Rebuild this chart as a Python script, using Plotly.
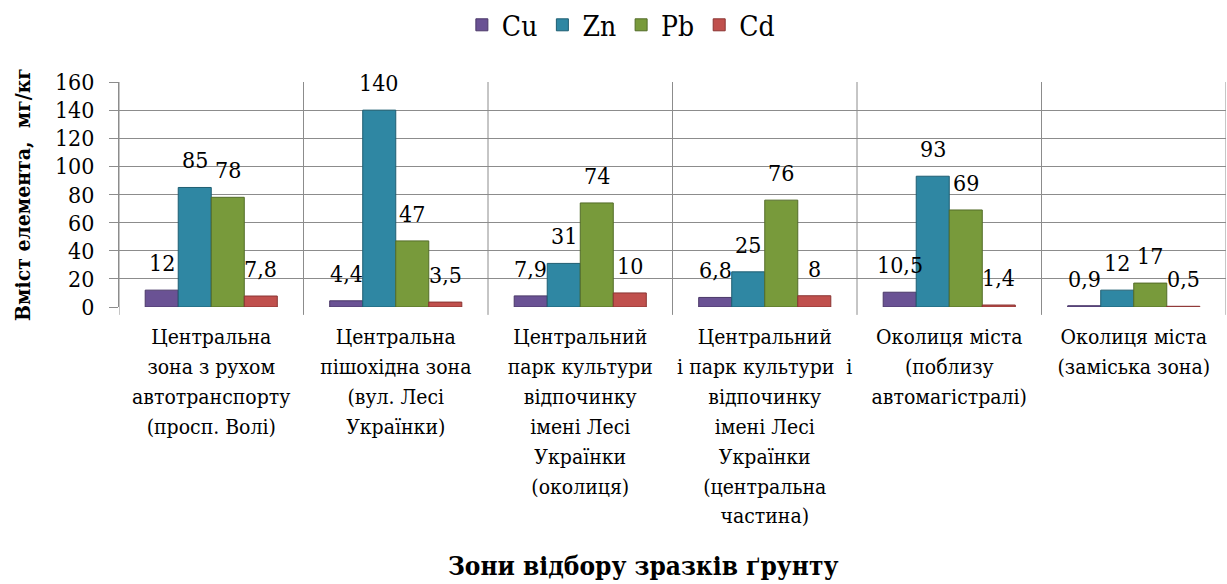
import plotly.graph_objects as go

# Sampling zones (category labels, one list entry per axis line)
zones = [
    ["Центральна", "зона з рухом", "автотранспорту", "(просп. Волі)"],
    ["Центральна", "пішохідна зона", "(вул. Лесі", "Українки)"],
    ["Центральний", "парк культури", "відпочинку", "імені Лесі", "Українки", "(околиця)"],
    ["Центральний", "і парк культури  і", "відпочинку", "імені Лесі", "Українки",
     "(центральна", "частина)"],
    ["Околиця міста", "(поблизу", "автомагістралі)"],
    ["Околиця міста", "(заміська зона)"],
]

# Element content, mg/kg
cu = [12, 4.4, 7.9, 6.8, 10.5, 0.9]
zn = [85, 140, 31, 25, 93, 12]
pb = [78, 47, 74, 76, 69, 17]
cd = [7.8, 3.5, 10, 8, 1.4, 0.5]

# Labels as printed on the chart (decimal comma)
cu_txt = ["12", "4,4", "7,9", "6,8", "10,5", "0,9"]
zn_txt = ["85", "140", "31", "25", "93", "12"]
pb_txt = ["78", "47", "74", "76", "69", "17"]
cd_txt = ["7,8", "3,5", "10", "8", "1,4", "0,5"]

y_ticks = [0, 20, 40, 60, 80, 100, 120, 140, 160]

series = [
    ("Cu", cu, cu_txt, "#6A5294", "#4A3868"),
    ("Zn", zn, zn_txt, "#2F87A3", "#1F5E72"),
    ("Pb", pb, pb_txt, "#789A3B", "#536C28"),
    ("Cd", cd, cd_txt, "#C0504D", "#8A3533"),
]

FONT = "DejaVu Serif Condensed, DejaVu Serif"
BARGAP = 0.284
x_idx = list(range(len(zones)))

# category text: smaller glyphs inside a larger line pitch
tick_text = ["<br>".join(f'<span style="font-size:21px">{ln}</span>' for ln in z)
             for z in zones]

fig = go.Figure()
for name, vals, _, col, edge in series:
    fig.add_trace(go.Bar(
        name=name, x=x_idx, y=vals,
        marker=dict(color=col, line=dict(color=edge, width=1)),
        hoverinfo="x+y",
    ))

# value labels, centred over each bar of a group
n = len(series)
bw = (1 - BARGAP) / n
annotations = []
for j, (name, vals, txt, col, edge) in enumerate(series):
    for i, (v, t) in enumerate(zip(vals, txt)):
        annotations.append(dict(
            x=i + (j - (n - 1) / 2) * bw, y=v, xref="x", yref="y",
            text=t, showarrow=False, yanchor="middle", yshift=27,
            font=dict(family=FONT, size=23, color="#000"),
        ))

# category axis title
annotations.append(dict(
    text="<b>Зони відбору зразків ґрунту</b>", xref="paper", yref="paper",
    x=0.473, y=-1.15, xanchor="center", yanchor="middle", showarrow=False,
    font=dict(family=FONT, size=26, color="#000"),
))

# vertical separators between zones
shapes = []
for k in range(len(zones) + 1):
    shapes.append(dict(
        type="line", xref="x", yref="paper", x0=k - 0.5, x1=k - 0.5,
        y0=-0.035, y1=1, line=dict(color="#8c8c8c", width=1), layer="below",
    ))

fig.update_layout(
    width=1227, height=584,
    margin=dict(l=119, r=1, t=82, b=277),
    paper_bgcolor="white", plot_bgcolor="white",
    barmode="group", bargap=BARGAP, bargroupgap=0,
    font=dict(family=FONT, size=21, color="#000"),
    legend=dict(
        orientation="h", xref="container", yref="container",
        x=0.506, y=0.957, xanchor="center", yanchor="middle",
        font=dict(family=FONT, size=28, color="#000"), itemwidth=30,
        tracegroupgap=0,
    ),
    xaxis=dict(
        range=[-0.5, len(zones) - 0.5], tickmode="array",
        tickvals=x_idx, ticktext=tick_text, ticks="", showgrid=False,
        zeroline=False, showline=False, ticklabelstandoff=13,
        tickfont=dict(family=FONT, size=23, color="#000"), fixedrange=True,
    ),
    yaxis=dict(
        range=[0, 160], tickmode="array", tickvals=y_ticks,
        showgrid=True, gridcolor="#8c8c8c", gridwidth=1,
        ticks="outside", ticklen=9, tickcolor="#8c8c8c",
        showline=True, linecolor="#8c8c8c", zeroline=False,
        ticklabelstandoff=10,
        tickfont=dict(family=FONT, size=23, color="#000"),
        title=dict(text="<b>Вміст елемента,  мг/кг</b>",
                   font=dict(family=FONT, size=21, color="#000"), standoff=18),
    ),
    annotations=annotations,
    shapes=shapes,
)

fig.write_html("out.html")
